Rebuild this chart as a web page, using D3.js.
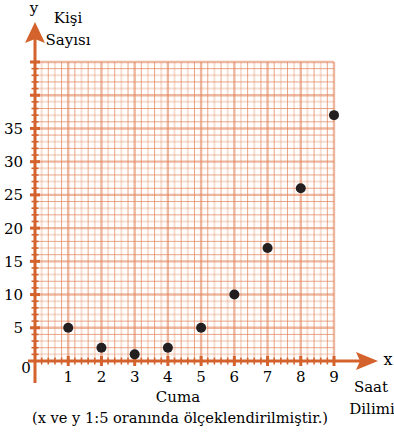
<!DOCTYPE html>
<html>
<head>
<meta charset="utf-8">
<script src="https://cdn.jsdelivr.net/npm/d3@7"></script>
<style>
  html, body { margin: 0; padding: 0; background: #fff; }
</style>
</head>
<body>
<svg id="chart" width="394" height="432"></svg>
<script>
// Number of people per time slot (Friday)
const timeSlots = [1, 2, 3, 4, 5, 6, 7, 8, 9];
const peopleCount = [5, 2, 1, 2, 5, 10, 17, 26, 37];
const xTickLabels = ["1", "2", "3", "4", "5", "6", "7", "8", "9"];
const yTickValues = [5, 10, 15, 20, 25, 30, 35];

const serif = "DejaVu Serif";
const svg = d3.select("#chart")
  .style("font-family", serif);
const orange = "#d3622c";
const gridColor = "#e3875f";

const x = d3.scaleLinear().domain([0, 9]).range([35, 334]);
const y = d3.scaleLinear().domain([0, 45]).range([361, 62]);

// graph paper: minor lines every 0.2 (x) / 1 (y) unit, majors every 1 (x) / 5 (y)
const grid = svg.append("g");
const xMinor = d3.range(1, 46).map(i => i / 5);
const yMinor = d3.range(1, 46);
function gridStyle(sel, major, i) {
  sel.attr("stroke", gridColor)
    .attr("stroke-width", major ? 2.4 : (i % 2 === 0 ? 2 : 1))
    .attr("stroke-opacity", major ? 0.6 : (i % 2 === 0 ? 0.28 : 0.75));
}
xMinor.forEach((v, i) => {
  grid.append("line")
    .attr("x1", x(v)).attr("x2", x(v)).attr("y1", y(0)).attr("y2", y(45))
    .call(gridStyle, (i + 1) % 5 === 0, i);
});
yMinor.forEach((v, i) => {
  grid.append("line")
    .attr("x1", x(0)).attr("x2", x(9)).attr("y1", y(v)).attr("y2", y(v))
    .call(gridStyle, v % 5 === 0, i);
});

// axes
const axes = svg.append("g").attr("stroke", orange);
axes.append("line").attr("x1", x(0)).attr("x2", x(0)).attr("y1", 383).attr("y2", 38)
  .attr("stroke-width", 3);
axes.append("line").attr("x1", 28).attr("x2", 360).attr("y1", y(0)).attr("y2", y(0))
  .attr("stroke-width", 3);
svg.append("path").attr("fill", orange)
  .attr("d", `M${x(0)},22 L${x(0) + 10},43 L${x(0)},39 L${x(0) - 10},43 Z`);
svg.append("path").attr("fill", orange)
  .attr("d", `M378,${y(0)} L356,${y(0) - 9} L360,${y(0)} L356,${y(0) + 9} Z`);

// axis ticks
yMinor.forEach(v => {
  const major = v % 5 === 0;
  axes.append("line")
    .attr("x1", x(0) - (major ? 5 : 3.5)).attr("x2", x(0) + (major ? 5 : 3.5))
    .attr("y1", y(v)).attr("y2", y(v))
    .attr("stroke-width", major ? 3 : 1.6);
});
xMinor.forEach((v, i) => {
  const major = (i + 1) % 5 === 0;
  axes.append("line")
    .attr("x1", x(v)).attr("x2", x(v))
    .attr("y1", y(0) - (major ? 5 : 3.5)).attr("y2", y(0) + (major ? 5 : 3.5))
    .attr("stroke-width", major ? 3 : 1.6);
});

// tick labels
svg.append("g").selectAll("text").data(yTickValues).join("text")
  .attr("x", 23).attr("y", d => y(d) + 5.5)
  .attr("text-anchor", "end").attr("font-size", 15).text(d => d);
svg.append("g").selectAll("text").data(timeSlots).join("text")
  .attr("x", d => x(d)).attr("y", 382)
  .attr("text-anchor", "middle").attr("font-size", 15).text((d, i) => xTickLabels[i]);
svg.append("text").attr("x", 26).attr("y", 373).attr("text-anchor", "middle")
  .attr("font-size", 15).text("0");

// axis titles
svg.append("text").attr("x", 34).attr("y", 13).attr("text-anchor", "middle")
  .attr("font-size", 15).text("y");
svg.append("text").attr("x", 68).attr("y", 23).attr("text-anchor", "middle")
  .attr("font-size", 15).text("Kişi");
svg.append("text").attr("x", 68).attr("y", 45).attr("text-anchor", "middle")
  .attr("font-size", 15).text("Sayısı");
svg.append("text").attr("x", 388).attr("y", 365).attr("text-anchor", "middle")
  .attr("font-size", 16).text("x");
svg.append("text").attr("x", 371).attr("y", 392).attr("text-anchor", "middle")
  .attr("font-size", 15).text("Saat");
svg.append("text").attr("x", 372).attr("y", 414).attr("text-anchor", "middle")
  .attr("font-size", 15).text("Dilimi");
svg.append("text").attr("x", 178).attr("y", 402).attr("text-anchor", "middle")
  .attr("font-size", 15).text("Cuma");
svg.append("text").attr("x", 180).attr("y", 423).attr("text-anchor", "middle")
  .attr("font-size", 14).attr("textLength", 296).attr("lengthAdjust", "spacingAndGlyphs")
  .text("(x ve y 1:5 oranında ölçeklendirilmiştir.)");

// data points
svg.append("g").selectAll("circle").data(timeSlots).join("circle")
  .attr("cx", d => x(d)).attr("cy", (d, i) => y(peopleCount[i]))
  .attr("r", 5).attr("fill", "#231f20");
</script>
</body>
</html>
